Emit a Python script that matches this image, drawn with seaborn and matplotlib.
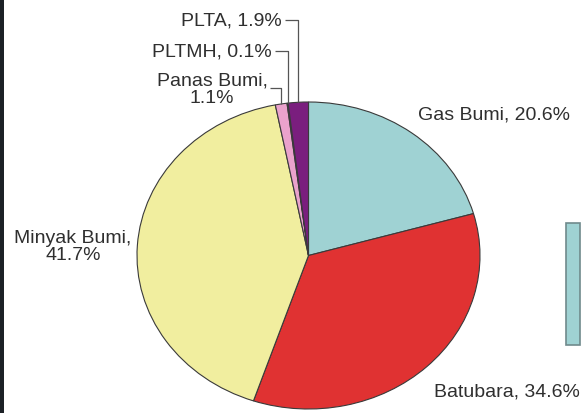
import numpy as np
import matplotlib
matplotlib.use("Agg")
import matplotlib.pyplot as plt
import seaborn as sns
from matplotlib.patches import Rectangle

# ---- data ----
categories = ["Gas Bumi", "Batubara", "Minyak Bumi", "Panas Bumi", "PLTMH", "PLTA"]
shares = [20.6, 34.6, 41.7, 1.1, 0.1, 1.9]
colors = ["#9fd2d3", "#e03232", "#f1ee9f", "#eaa2cc", "#5a6fb0", "#7a1e7e"]

sns.set_theme(style="white")
plt.rcParams['font.family'] = ['Liberation Sans', 'DejaVu Sans']

W, H = 581, 414
fig = plt.figure(figsize=(W / 100, H / 100), dpi=100)
fig.patch.set_facecolor("white")

# pie axes (pie is slightly elliptical in the reference)
px0, px1, py_top, py_bot = 137, 480, 103, 410
ax = fig.add_axes([px0 / W, (H - py_bot) / H, (px1 - px0) / W, (py_bot - py_top) / H])
wedges, _ = ax.pie(shares, colors=colors, startangle=90, counterclock=False,
                   wedgeprops=dict(edgecolor="#3a3a3a", linewidth=0.8))
for w in wedges:
    w.set_clip_on(False)
ax.set_aspect('auto')
ax.set_xlim(-1, 1)
ax.set_ylim(-1, 1)
ax.axis('off')

cx, cy = (px0 + px1) / 2, (py_top + py_bot) / 2
rx, ry = (px1 - px0) / 2, (py_bot - py_top) / 2
def dx(p):
    return (p - cx) / rx
def dy(p):
    return (cy - p) / ry

tcol = "#2f2f2f"
fs = 14

# label layout: (x_pix, y_pix, ha, two_line, leader_y_pix or None, leader_start_x_pix)
layout = {
    "Gas Bumi": (418, 115, "left", False, None, None),
    "Batubara": (434, 392, "left", False, None, None),
    "Minyak Bumi": (73, 247, "center", True, None, None),
    "Panas Bumi": (212, 90, "center", True, 89, 270),
    "PLTMH": (272, 52, "right", False, 52, 275),
    "PLTA": (282, 21, "right", False, 21, 285),
}

for w, cat, val in zip(wedges, categories, shares):
    xp, yp, ha, two, ly, lx = layout[cat]
    sep = ",\n" if two else ", "
    ax.text(dx(xp), dy(yp), f"{cat}{sep}{val}%", ha=ha, va="center",
            multialignment="center", fontsize=fs, color=tcol,
            linespacing=1.05, clip_on=False)
    if ly is not None:
        th = np.deg2rad((w.theta1 + w.theta2) / 2)
        x0, y0 = np.cos(th), np.sin(th)
        ax.plot([dx(lx), x0, x0], [dy(ly), dy(ly), y0], color="#555555",
                lw=0.9, clip_on=False, solid_capstyle="butt")

# dark left border of the original screenshot
fig.add_artist(Rectangle((0, 0), 4 / W, 1, transform=fig.transFigure,
                         facecolor="#1c2126", edgecolor="none"))
# partially visible legend entry at the right edge
fig.add_artist(Rectangle((566 / W, (H - 346) / H), 14 / W, 122 / H,
                         transform=fig.transFigure, facecolor=colors[0],
                         edgecolor="#6f8a8c", linewidth=1.2))

fig.savefig("out.png", dpi=100)
